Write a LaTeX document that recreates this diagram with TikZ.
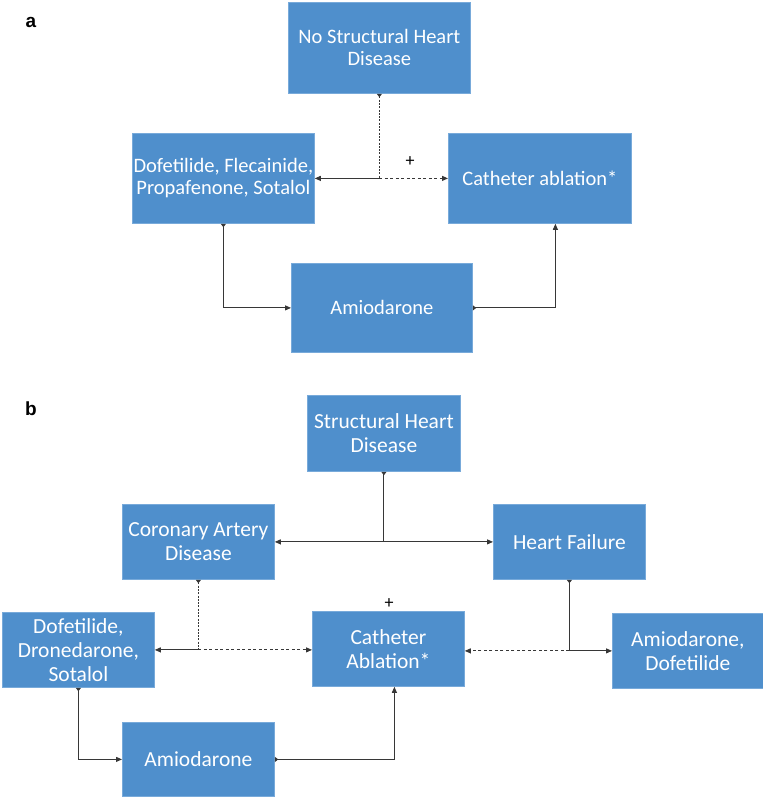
\documentclass[tikz,border=0pt]{standalone}
\usepackage{fontspec}
\setmainfont{Carlito}
\newfontfamily\labelfont{Liberation Sans}
\usetikzlibrary{arrows.meta,positioning}
\definecolor{boxblue}{RGB}{79,143,204}
\definecolor{boxedge}{RGB}{120,170,218}
\definecolor{linegray}{RGB}{55,55,55}
\tikzset{
  stepbox/.style={rectangle,fill=boxblue,draw=boxedge,line width=0.8pt,text=white,
    align=center,inner sep=0pt,anchor=north west},
  fonta/.style={font=\fontsize{20.5}{22}\selectfont},
  fontb/.style={font=\fontsize{21.5}{24}\selectfont},
  link/.style={draw=linegray,line width=0.9pt},
  tailtip/.style={{Triangle[reversed,length=3.5pt,width=5pt]}-},
  headtip/.style={-{Triangle[length=6pt,width=5pt]}},
  bothtip/.style={{Triangle[reversed,length=3.5pt,width=5pt]}-{Triangle[length=6pt,width=5pt]}},
  finedash/.style={dash pattern=on 2pt off 1.3pt},
  dotdash/.style={dash pattern=on 3pt off 2.5pt},
  panel/.style={font=\labelfont\bfseries\fontsize{19}{20}\selectfont,anchor=base},
  plus/.style={font=\fontsize{18}{18}\selectfont}
}
\begin{document}
\begin{tikzpicture}[x=1pt,y=-1pt]
\useasboundingbox[fill=white] (0,0) rectangle (763,798);

% ---------- panel a ----------
\node[panel] (la) at (31,27) {a};
\node[stepbox,fonta,minimum width=182,minimum height=91] (nshd) at (288,2) {No Structural Heart\\Disease};
\node[stepbox,fonta,minimum width=182,minimum height=90] (dofa) at (132,133) {Dofetilide, Flecainide,\\Propafenone, Sotalol};
\node[stepbox,fonta,minimum width=183,minimum height=90] (catha) at (448,133) {Catheter ablation*};
\node[stepbox,fonta,minimum width=181,minimum height=89] (amioa) at (291,263) {Amiodarone};
\node[plus] (plusa) at (410,162) {+};

\coordinate (ja) at (nshd.south |- dofa.east);
\draw[link,tailtip,finedash] (nshd.south) -- (ja);
\draw[link,headtip] (ja) -- (dofa.east);
\draw[link,headtip,dotdash] (ja) -- (catha.west);
\draw[link,bothtip] (dofa.south) |- (amioa.west);
\draw[link,bothtip] (amioa.east) -| ([xshift=15.5]catha.south);

% ---------- panel b ----------
\node[panel] (lb) at (31,415) {b};
\node[stepbox,fontb,minimum width=153,minimum height=76] (shd) at (307,395) {Structural Heart\\Disease};
\node[stepbox,fontb,minimum width=152,minimum height=75] (cad) at (122,504) {Coronary Artery\\Disease};
\node[stepbox,fontb,minimum width=152,minimum height=75] (hf) at (493,504) {Heart Failure};
\node[stepbox,fontb,minimum width=152,minimum height=75] (dofb) at (2,612) {Dofetilide,\\Dronedarone,\\Sotalol};
\node[stepbox,fontb,minimum width=152,minimum height=75] (cathb) at (312,611) {Catheter\\Ablation*};
\node[stepbox,fontb,minimum width=151,minimum height=75] (amdof) at (612,613) {Amiodarone,\\Dofetilide};
\node[stepbox,fontb,minimum width=152,minimum height=74] (amiob) at (122,722) {Amiodarone};
\node[plus] (plusb) at (389,604) {+};

\coordinate (jb) at (shd.south |- cad.east);
\draw[link,tailtip] (shd.south) -- (jb);
\draw[link,headtip] (jb) -- (cad.east);
\draw[link,headtip] (jb) -- (hf.west);

\coordinate (jc) at (cad.south |- dofb.east);
\draw[link,tailtip,finedash] (cad.south) -- (jc);
\draw[link,headtip] (jc) -- (dofb.east);
\draw[link,headtip,dotdash] (jc) -- (jc -| cathb.west);

\coordinate (jd) at (hf.south |- amdof.west);
\draw[link,tailtip] (hf.south) -- (jd);
\draw[link,headtip] (jd) -- (amdof.west);
\draw[link,headtip,dotdash] (jd) -- (jd -| cathb.east);

\draw[link,bothtip] (dofb.south) |- (amiob.west);
\draw[link,bothtip] (amiob.east) -| ([xshift=6]cathb.south);
\end{tikzpicture}
\end{document}
